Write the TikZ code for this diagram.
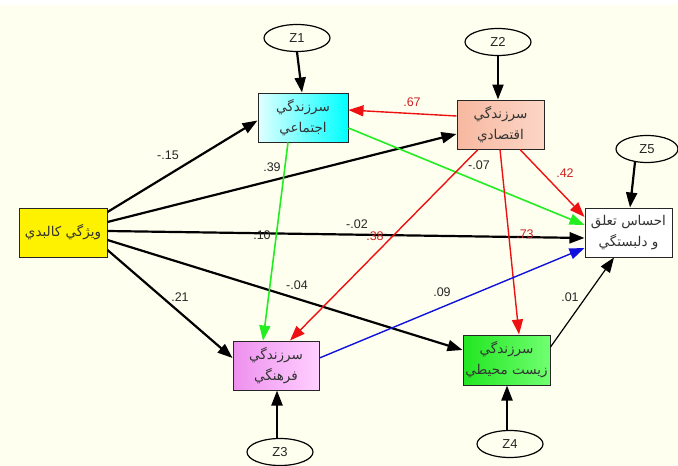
\documentclass[tikz,border=0pt]{standalone}
\usepackage{fontspec}
\setmainfont{Liberation Sans}
\newfontfamily\arabicfont[Script=Arabic]{DejaVu Sans}
\TeXXeTstate=1
\usetikzlibrary{arrows.meta,shapes.geometric}
\definecolor{cream}{HTML}{FFFFF0}
\definecolor{salmonA}{HTML}{F7B8A0}
\definecolor{salmonB}{HTML}{FCD6C6}
\definecolor{pinkA}{HTML}{EE90EE}
\definecolor{pinkB}{HTML}{FFD0FF}
\definecolor{greenA}{HTML}{22E622}
\definecolor{greenB}{HTML}{70FF70}
\definecolor{lnred}{HTML}{EE1111}
\definecolor{lngreen}{HTML}{22EE22}
\definecolor{lnblue}{HTML}{1111DD}
\definecolor{lblred}{HTML}{CC2222}
\tikzset{
  var/.style={draw=black!85, line width=1pt, rectangle, minimum width=87pt, minimum height=49pt,
    inner sep=0pt, align=center, font=\arabicfont\fontsize{13.5}{21}\selectfont, text=black!80},
  err/.style={draw=black, line width=1.2pt, ellipse, minimum width=66pt, minimum height=27pt,
    inner sep=0pt, font=\fontsize{13}{14}\selectfont, text=black!85},
  tip/.style={-{Triangle[length=15pt,width=11pt]}},
  blk/.style={tip, draw=black, line width=2.2pt},
  thn/.style={tip, draw=black, line width=1.2pt},
  red/.style={tip, draw=lnred, line width=1.4pt},
  grn/.style={tip, draw=lngreen, line width=1.6pt},
  blu/.style={tip, draw=lnblue, line width=1.4pt},
  lbl/.style={font=\fontsize{12.5}{14}\selectfont, inner sep=0pt, text=black!85},
  rlbl/.style={lbl, text=lblred}
}
\begin{document}
\begin{tikzpicture}[x=1pt,y=-1pt]
\useasboundingbox (0,0) rectangle (678,466);
\fill[white] (0,0) rectangle (678,466);
\fill[cream] (0,5) rectangle (678,466);

% variables
\node[var, fill=yellow, minimum width=88pt] (yel) at (63,232.5) {\beginR ویژگي کالبدي\endR};
\node[var, left color=cyan!12, right color=cyan, minimum width=90pt] (cya) at (303,117.5) {\beginR سرزندگي\endR\\\beginR اجتماعي\endR};
\node[var, left color=salmonA, right color=salmonB] (sal) at (500.5,124.5) {\beginR سرزندگي\endR\\\beginR اقتصادي\endR};
\node[var, fill=white] (wht) at (628.5,232.5) {\beginR احساس تعلق\endR\\\beginR و دلبستگي\endR};
\node[var, left color=pinkA, right color=pinkB, minimum width=86pt] (pin) at (276,365.5) {\beginR سرزندگي\endR\\\beginR فرهنگي\endR};
\node[var, left color=greenA, right color=greenB, minimum height=50pt] (gre) at (506.5,360) {\beginR سرزندگي\endR\\\beginR زيست محيطي\endR};

% error terms
\node[err] (z1) at (297,38) {Z1};
\node[err] (z2) at (498,42) {Z2};
\node[err, minimum width=62pt] (z5) at (647,149) {Z5};
\node[err] (z3) at (280,452) {Z3};
\node[err] (z4) at (510,444) {Z4};

% error arrows
\draw[blk] (z1.south) -- ([xshift=-1pt]cya.north);
\draw[blk] (z2.south) -- ([xshift=-2.5pt]sal.north);
\draw[blk] ([xshift=-12pt,yshift=1pt]z5.south) -- ([xshift=1.5pt]wht.north);
\draw[blk] ([xshift=-3pt]z3.north) -- ([xshift=1pt]pin.south);
\draw[blk] ([xshift=-3pt]z4.north) -- ([xshift=0.5pt]gre.south);

% paths from yellow
\draw[blk] ([yshift=20.5pt]yel.east) -- ([yshift=-3pt]cya.west);
\draw[blk] ([yshift=10.5pt]yel.east) -- ([yshift=-9.5pt]sal.west);
\draw[blk] ([yshift=1.5pt]yel.east) -- ([yshift=-5.5pt]wht.west);
\draw[blk] ([yshift=-7.5pt]yel.east) -- ([yshift=10pt]gre.west);
\draw[blk] ([yshift=-17.5pt]yel.east) -- ([yshift=7.5pt]pin.west);

% green paths
\draw[grn] ([yshift=-10.5pt]cya.east) -- ([yshift=7.5pt]wht.west);
\draw[grn] ([xshift=-15pt]cya.south) -- ([xshift=-13pt]pin.north);

% red paths
\draw[red] ([yshift=8.5pt]sal.west) -- ([yshift=7.5pt]cya.east);
\draw[red] ([xshift=19.5pt]sal.south) -- ([yshift=15.5pt]wht.west);
\draw[red] ([xshift=-0.5pt]sal.south) -- ([xshift=12.5pt]gre.north);
\draw[red] ([xshift=-22.5pt]sal.south) -- ([xshift=14pt]pin.north);

% blue and thin
\draw[blu] ([yshift=7.5pt]pin.east) -- ([yshift=-15.5pt]wht.west);
\draw[thn] ([yshift=13pt]gre.east) -- ([xshift=-14.5pt]wht.south);

% labels
\node[lbl] (l1) at (168,155) {-.15};
\node[lbl] (l2) at (272,167) {.39};
\node[lbl] (l3) at (262,235) {.10};
\node[lbl] (l4) at (357,224) {-.02};
\node[rlbl] (l5) at (375,236) {.38};
\node[lbl] (l6) at (297,285) {-.04};
\node[lbl] (l7) at (180,297) {.21};
\node[lbl] (l8) at (442,292) {.09};
\node[lbl] (l9) at (570,297) {.01};
\node[lbl] (l10) at (479,165) {-.07};
\node[rlbl] (l11) at (565,173) {.42};
\node[rlbl] (l12) at (525,234) {.73};
\node[rlbl] (l13) at (412,102) {.67};
\end{tikzpicture}
\end{document}
